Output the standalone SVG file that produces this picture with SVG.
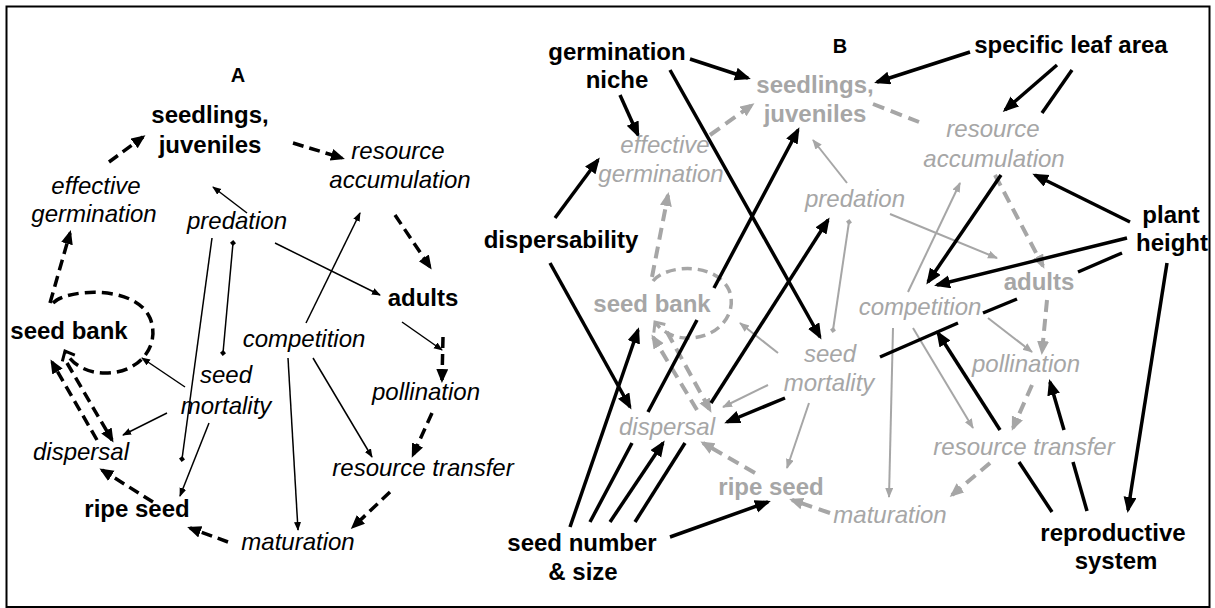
<svg xmlns="http://www.w3.org/2000/svg" width="1215" height="608" viewBox="0 0 1215 608">
<style>
.t{font-family:"Liberation Sans",Arial,sans-serif;font-size:24px;text-anchor:middle}
.b{font-weight:bold}
.i{font-style:italic}
.g{fill:#a6a6a6}
.k{fill:#000}
.dA{stroke:#000;stroke-width:3.5;stroke-dasharray:11 6;fill:none;marker-end:url(#hA)}
.tA{stroke:#000;stroke-width:1.5;fill:none;marker-end:url(#hs)}
.tAd{stroke:#000;stroke-width:1.5;fill:none;marker-end:url(#dk)}
.kB{stroke:#000;stroke-width:3.5;fill:none;marker-end:url(#hk)}
.kBn{stroke:#000;stroke-width:3.5;fill:none}
.gB{stroke:#a6a6a6;stroke-width:2;fill:none;marker-end:url(#hg)}
.dB{stroke:#a6a6a6;stroke-width:4;stroke-dasharray:12 7;fill:none;marker-end:url(#hgd)}
.dBn{stroke:#a6a6a6;stroke-width:4;stroke-dasharray:12 7;fill:none}
</style>
<defs>
<marker id="hA" markerUnits="userSpaceOnUse" markerWidth="16" markerHeight="14" refX="11" refY="6" orient="auto"><path d="M0,0 L14,6 L0,12 z" fill="#000"/></marker>
<marker id="hs" markerUnits="userSpaceOnUse" markerWidth="12" markerHeight="10" refX="8" refY="3.5" orient="auto"><path d="M0,0 L9,3.5 L0,7 z" fill="#000"/></marker>
<marker id="dk" markerUnits="userSpaceOnUse" markerWidth="8" markerHeight="8" refX="3" refY="3" orient="auto"><path d="M0,3 L3,0 L6,3 L3,6 z" fill="#000"/></marker>
<marker id="dg" markerUnits="userSpaceOnUse" markerWidth="8" markerHeight="8" refX="3" refY="3" orient="auto"><path d="M0,3 L3,0 L6,3 L3,6 z" fill="#a6a6a6"/></marker>
<marker id="hk" markerUnits="userSpaceOnUse" markerWidth="18" markerHeight="15" refX="13" refY="6.5" orient="auto"><path d="M0,0 L16,6.5 L0,13 z" fill="#000"/></marker>
<marker id="hg" markerUnits="userSpaceOnUse" markerWidth="12" markerHeight="10" refX="9" refY="4" orient="auto"><path d="M0,0 L10,4 L0,8 z" fill="#a6a6a6"/></marker>
<marker id="hgd" markerUnits="userSpaceOnUse" markerWidth="16" markerHeight="14" refX="11" refY="6" orient="auto"><path d="M0,0 L14,6 L0,12 z" fill="#a6a6a6"/></marker>
<marker id="cvk" markerUnits="userSpaceOnUse" markerWidth="20" markerHeight="20" refX="10" refY="10" orient="auto"><path d="M2,3 L10,10 L2,17" fill="none" stroke="#000" stroke-width="3"/></marker>
<marker id="cvg" markerUnits="userSpaceOnUse" markerWidth="20" markerHeight="20" refX="10" refY="10" orient="auto"><path d="M2,3 L10,10 L2,17" fill="none" stroke="#a6a6a6" stroke-width="3"/></marker>
</defs>
<rect x="6.5" y="6.5" width="1203" height="600.5" fill="#fff" stroke="#000" stroke-width="2"/>

<g id="connectors">
<!-- Panel A dashed -->
<path class="dA" d="M50,303 L70,233"/>
<path class="dA" d="M109,162 L143,137"/>
<path class="dA" d="M293,143 L342,158"/>
<path class="dA" d="M395,215 L430,267"/>
<path class="dA" d="M443,337 L442,380"/>
<path class="dA" d="M432,413 L413,455"/>
<path class="dA" d="M390,492 L353,527"/>
<path class="dA" d="M228,542 L190,528"/>
<path class="dA" d="M153,502 L102,470"/>
<path class="dA" d="M67,363 L112,440"/>
<path class="dA" d="M97,440 L52,362"/>
<path d="M53,303 C66,289 135,284 150,318 C161,345 140,372 108,373 C88,374 72,365 65,351" fill="none" stroke="#000" stroke-width="3.5" stroke-dasharray="11 6" marker-end="url(#cvk)"/>
<!-- Panel A thin -->
<path class="tA" d="M247,213 L213,187"/>
<path class="tAd" d="M212,238 L182,459"/>
<path class="tAd" d="M233,243 L223,353" marker-start="url(#dk)"/>
<path class="tA" d="M275,243 L380,295"/>
<path class="tA" d="M306,323 L360,213"/>
<path class="tA" d="M288,358 L298,530"/>
<path class="tA" d="M313,358 L372,457"/>
<path class="tA" d="M185,387 L142,358"/>
<path class="tA" d="M167,413 L123,435"/>
<path class="tA" d="M209,423 L180,496"/>
<path class="tA" d="M402,322 L442,350"/>

<!-- Panel B gray dashed -->
<path class="dB" d="M652,277 L668,195"/>
<path class="dB" d="M710,135 L752,105"/>
<path class="dBn" d="M873,104 L919,122"/>
<path class="dB" d="M995,175 L1043,266"/>
<path class="dB" d="M1047,300 L1042,352"/>
<path class="dB" d="M1032,385 L1013,428"/>
<path class="dB" d="M990,463 L952,495"/>
<path class="dB" d="M830,513 L792,500"/>
<path class="dB" d="M755,473 L703,443"/>
<path class="dB" d="M667,332 L710,410"/>
<path class="dB" d="M697,410 L653,337"/>
<path d="M653,281 C665,265 715,261 729,290 C738,312 720,337 690,338 C675,339 662,332 655,322" fill="none" stroke="#a6a6a6" stroke-width="3.5" stroke-dasharray="10 6" marker-end="url(#cvg)"/>
<!-- Panel B gray thin -->
<path class="gB" d="M847,183 L813,140"/>
<path class="gB" d="M890,214 L997,258"/>
<path d="M849,222 L833,330" stroke="#a6a6a6" stroke-width="2" fill="none" marker-start="url(#dg)" marker-end="url(#dg)"/>
<path class="gB" d="M908,292 L960,183"/>
<path class="gB" d="M893,328 L889,497"/>
<path class="gB" d="M913,328 L973,428"/>
<path class="gB" d="M988,318 L1032,352"/>
<path class="gB" d="M778,353 L740,323"/>
<path class="gB" d="M768,385 L723,407"/>
<path class="gB" d="M809,403 L787,468"/>

<!-- Panel B black -->
<path class="kB" d="M690,59 L748,78"/>
<path class="kB" d="M620,95 L638,135"/>
<path class="kB" d="M670,70 L820,337"/>
<path class="kB" d="M970,52 L877,82"/>
<path class="kB" d="M1057,65 L1005,110"/>
<path class="kBn" d="M1072,70 L1042,113"/>
<path class="kB" d="M1001,175 L928,282"/>
<path class="kB" d="M1130,222 L1035,175"/>
<path class="kB" d="M1127,238 L937,285"/>
<path class="kBn" d="M1122,253 L1078,272"/>
<path class="kBn" d="M1017,299 L983,313"/>
<path class="kBn" d="M958,323 L880,357"/>
<path class="kB" d="M785,398 L727,422"/>
<path class="kB" d="M1167,263 L1128,510"/>
<path class="kBn" d="M1052,512 L1019,462"/>
<path class="kB" d="M1000,430 L938,333"/>
<path class="kBn" d="M1087,511 L1073,462"/>
<path class="kB" d="M1064,430 L1050,382"/>
<path class="kB" d="M555,218 L598,160"/>
<path class="kB" d="M550,263 L630,407"/>
<path class="kB" d="M570,527 L638,330"/>
<path class="kBn" d="M590,522 L632,443"/>
<path class="kBn" d="M648,412 L697,320"/>
<path class="kB" d="M714,288 L798,130"/>
<path class="kB" d="M610,522 L663,443"/>
<path class="kBn" d="M635,522 L685,443"/>
<path class="kB" d="M711,403 L828,220"/>
<path class="kB" d="M670,537 L768,502"/>
</g>

<!-- Panel A nodes -->
<g id="labelA"><text class="t b k" x="238" y="82" style="font-size:20px">A</text></g>
<g id="a-seedlings"><text class="t b k" x="210" y="123">seedlings,<tspan x="210" y="153">juveniles</tspan></text></g>
<g id="a-effgerm"><text class="t i k" x="96" y="194">effective<tspan x="94" y="222">germination</tspan></text></g>
<g id="a-predation"><text class="t i k" x="237" y="229">predation</text></g>
<g id="a-resacc"><text class="t i k" x="398" y="159">resource<tspan x="400" y="188">accumulation</tspan></text></g>
<g id="a-adults"><text class="t b k" x="423" y="306">adults</text></g>
<g id="a-competition"><text class="t i k" x="304" y="347">competition</text></g>
<g id="a-seedmort"><text class="t i k" x="226" y="383">seed<tspan x="226" y="414">mortality</tspan></text></g>
<g id="a-pollination"><text class="t i k" x="426" y="400">pollination</text></g>
<g id="a-restrans"><text class="t i k" x="423" y="476">resource transfer</text></g>
<g id="a-ripeseed"><text class="t b k" x="137" y="517">ripe seed</text></g>
<g id="a-dispersal"><text class="t i k" x="81" y="460">dispersal</text></g>
<g id="a-maturation"><text class="t i k" x="298" y="550">maturation</text></g>
<g id="a-seedbank"><text class="t b k" x="69" y="339">seed bank</text></g>

<!-- Panel B nodes -->
<g id="labelB"><text class="t b k" x="840" y="53" style="font-size:20px">B</text></g>
<g id="b-seedlings"><text class="t b g" x="815" y="93">seedlings,<tspan x="815" y="122">juveniles</tspan></text></g>
<g id="b-effgerm"><text class="t i g" x="665" y="153">effective<tspan x="661" y="182">germination</tspan></text></g>
<g id="b-predation"><text class="t i g" x="855" y="207">predation</text></g>
<g id="b-resacc"><text class="t i g" x="993" y="137">resource<tspan x="994" y="167">accumulation</tspan></text></g>
<g id="b-adults"><text class="t b g" x="1039" y="290">adults</text></g>
<g id="b-competition"><text class="t i g" x="920" y="315">competition</text></g>
<g id="b-seedmort"><text class="t i g" x="830" y="362">seed<tspan x="829" y="391">mortality</tspan></text></g>
<g id="b-pollination"><text class="t i g" x="1026" y="372">pollination</text></g>
<g id="b-restrans"><text class="t i g" x="1024" y="455">resource transfer</text></g>
<g id="b-seedbank"><text class="t b g" x="652" y="312">seed bank</text></g>
<g id="b-dispersal"><text class="t i g" x="667" y="435">dispersal</text></g>
<g id="b-ripeseed"><text class="t b g" x="771" y="495">ripe seed</text></g>
<g id="b-maturation"><text class="t i g" x="890" y="523">maturation</text></g>
<g id="t-germniche"><text class="t b k" x="617" y="60">germination<tspan x="617" y="88">niche</tspan></text></g>
<g id="t-sla"><text class="t b k" x="1071" y="53">specific leaf area</text></g>
<g id="t-dispersability"><text class="t b k" x="561" y="248">dispersability</text></g>
<g id="t-height"><text class="t b k" x="1171" y="223">plant<tspan x="1172" y="251">height</tspan></text></g>
<g id="t-seednum"><text class="t b k" x="582" y="551">seed number<tspan x="583" y="580">&amp; size</tspan></text></g>
<g id="t-repro"><text class="t b k" x="1113" y="541">reproductive<tspan x="1116" y="569">system</tspan></text></g>
</svg>
